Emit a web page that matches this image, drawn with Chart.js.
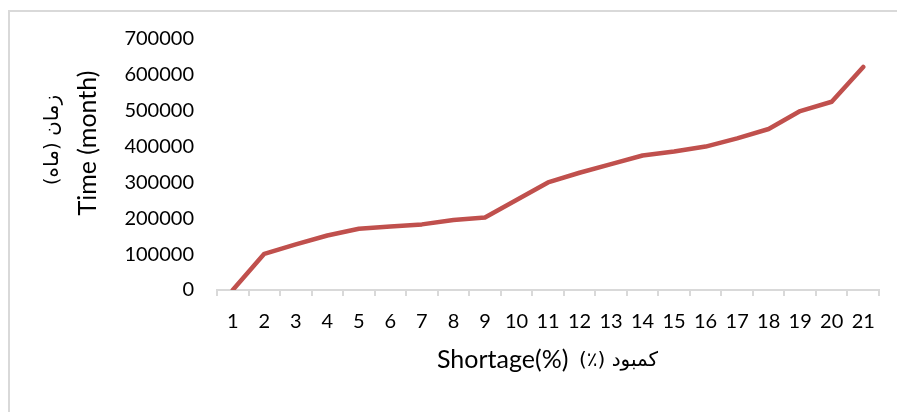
<!DOCTYPE html>
<html>
<head>
<meta charset="utf-8">
<script src="https://cdn.jsdelivr.net/npm/chart.js@4.4.1/dist/chart.umd.min.js"></script>
<style>
    html, body { margin: 0; padding: 0; background: #fff; overflow: hidden; }
    #frame {
        position: absolute; left: 8px; top: 10px;
        width: 1000px; height: 1000px;
        border: 2px solid #d9d9d9;
    }
    #wrap { position: absolute; left: 0; top: 0; width: 897px; height: 412px; }
</style>
</head>
<body>
<div id="frame"></div>
<div id="wrap"><canvas id="shortageChart" width="897" height="412"></canvas></div>
<script>
// Chart data
const shortageLabels = ['1', '2', '3', '4', '5', '6', '7', '8', '9', '10', '11',
    '12', '13', '14', '15', '16', '17', '18', '19', '20', '21'];
const timeValues = [0, 101000, 127000, 152000, 171000, 177000, 183000, 195000, 202000, 251000, 300000,
    327000, 351000, 375000, 386000, 400000, 423000, 449000, 499000, 525000, 622000];
const yTicks = [0, 100000, 200000, 300000, 400000, 500000, 600000, 700000];

const latinFont = 'Lato, Carlito, Calibri, sans-serif';
const arabicFont = '"DejaVu Sans", "Noto Sans", sans-serif';

// Axis titles (English + Persian with different sizes)
const axisTitles = {
    id: 'axisTitles',
    afterDraw(chart) {
        const ctx = chart.ctx;
        const area = chart.chartArea;
        ctx.save();
        ctx.fillStyle = '#000';
        ctx.textAlign = 'center';
        ctx.textBaseline = 'middle';

        // y title
        ctx.save();
        ctx.translate(88, 143);
        ctx.rotate(-Math.PI / 2);
        ctx.font = '25px ' + latinFont;
        ctx.fillText('Time (month)', 0, 0);
        ctx.restore();

        ctx.save();
        ctx.translate(53, 140);
        ctx.rotate(-Math.PI / 2);
        ctx.direction = 'rtl';
        ctx.font = '20px ' + arabicFont;
        ctx.fillText('زمان (ماه)', 0, 0);
        ctx.restore();

        // x title
        const y = area.bottom + 70;
        ctx.textAlign = 'left';
        ctx.font = '25px ' + latinFont;
        ctx.fillText('Shortage(%)', 437, y);
        ctx.direction = 'rtl';
        ctx.textAlign = 'right';
        ctx.font = '20px ' + arabicFont;
        ctx.fillText('کمبود (٪)', 658, y + 1);
        ctx.restore();
    }
};

function initChart() {
    const ctx = document.getElementById('shortageChart').getContext('2d');

    new Chart(ctx, {
        type: 'line',
        data: {
            labels: shortageLabels,
            datasets: [{
                label: 'Time',
                data: timeValues,
                borderColor: '#c0504d',
                borderWidth: 4.5,
                borderCapStyle: 'round',
                borderJoinStyle: 'round',
                pointRadius: 0,
                tension: 0,
                fill: false
            }]
        },
        options: {
            responsive: false,
            animation: false,
            layout: { padding: { left: 0, top: 39, right: 18, bottom: 0 } },
            plugins: {
                legend: { display: false },
                tooltip: { enabled: false }
            },
            scales: {
                x: {
                    offset: true,
                    grid: {
                        display: true,
                        offset: true,
                        drawOnChartArea: false,
                        drawTicks: true,
                        tickLength: 6,
                        color: '#d9d9d9',
                        lineWidth: 2
                    },
                    border: { display: true, color: '#d9d9d9', width: 2 },
                    ticks: {
                        color: '#000',
                        font: { family: latinFont, size: 20 },
                        padding: 14,
                        maxRotation: 0,
                        autoSkip: false
                    },
                    afterFit(scale) { scale.height = 122; }
                },
                y: {
                    min: 0,
                    max: 700000,
                    grid: { display: false, drawTicks: false },
                    border: { display: false },
                    afterBuildTicks(scale) { scale.ticks = yTicks.map(v => ({ value: v })); },
                    ticks: {
                        color: '#000',
                        font: { family: latinFont, size: 20 },
                        padding: 23,
                        callback: v => String(v)
                    },
                    afterFit(scale) { scale.width = 217; }
                }
            }
        },
        plugins: [axisTitles]
    });
}

document.addEventListener('DOMContentLoaded', initChart);
</script>
</body>
</html>
